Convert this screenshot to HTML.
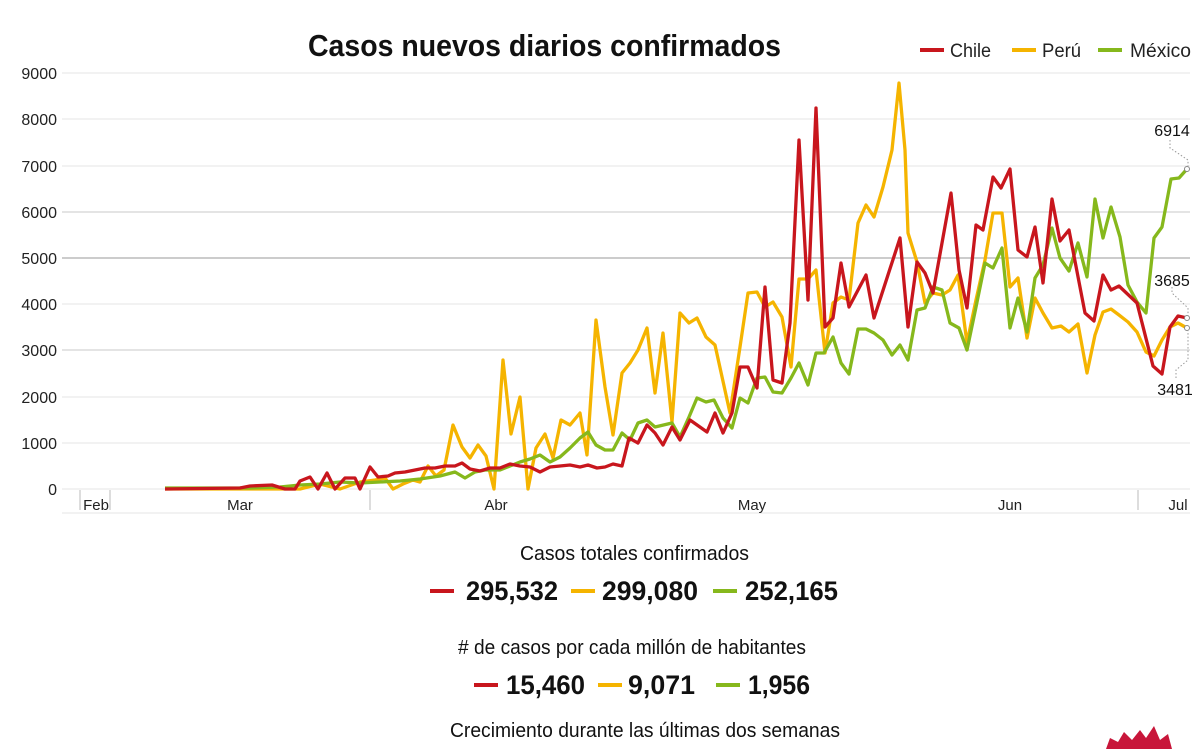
<!DOCTYPE html>
<html><head><meta charset="utf-8"><style>
body{margin:0;background:#fff;width:1200px;height:749px;overflow:hidden;font-family:"Liberation Sans",sans-serif;}
svg text{font-family:"Liberation Sans",sans-serif;}
</style></head><body>
<svg width="1200" height="749" viewBox="0 0 1200 749" xmlns="http://www.w3.org/2000/svg">
<text x="308" y="56" font-size="31" font-weight="bold" fill="#111" textLength="473" lengthAdjust="spacingAndGlyphs">Casos nuevos diarios confirmados</text>
<g font-size="19" fill="#222">
<line x1="920" y1="50" x2="944" y2="50" stroke="#c8161d" stroke-width="4"/><text x="950" y="57" textLength="41" lengthAdjust="spacingAndGlyphs">Chile</text>
<line x1="1012" y1="50" x2="1036" y2="50" stroke="#f5b400" stroke-width="4"/><text x="1042" y="57" textLength="39" lengthAdjust="spacingAndGlyphs">Perú</text>
<line x1="1098" y1="50" x2="1122" y2="50" stroke="#86b81c" stroke-width="4"/><text x="1130" y="57" textLength="61" lengthAdjust="spacingAndGlyphs">México</text>
</g>
<g stroke="#e6e6e6" stroke-width="1">
<line x1="62" y1="73" x2="1190" y2="73"/><line x1="62" y1="119" x2="1190" y2="119"/><line x1="62" y1="166" x2="1190" y2="166"/>
<line x1="62" y1="212" x2="1190" y2="212" stroke="#c8c8c8"/><line x1="62" y1="258" x2="1190" y2="258" stroke="#999"/>
<line x1="62" y1="304" x2="1190" y2="304"/><line x1="62" y1="350" x2="1190" y2="350" stroke="#c8c8c8"/>
<line x1="62" y1="397" x2="1190" y2="397"/><line x1="62" y1="443" x2="1190" y2="443"/><line x1="62" y1="489" x2="1190" y2="489"/>
<line x1="62" y1="513" x2="1190" y2="513"/>
</g>
<g stroke="#bbb"><line x1="80" y1="490" x2="80" y2="510"/><line x1="110" y1="490" x2="110" y2="510"/><line x1="370" y1="490" x2="370" y2="510"/><line x1="1138" y1="490" x2="1138" y2="510"/></g>
<g font-size="16" fill="#222" text-anchor="end">
<text x="57" y="79">9000</text><text x="57" y="125">8000</text><text x="57" y="172">7000</text><text x="57" y="218">6000</text><text x="57" y="264">5000</text><text x="57" y="310">4000</text><text x="57" y="356">3000</text><text x="57" y="403">2000</text><text x="57" y="449">1000</text><text x="57" y="495">0</text>
</g>
<g font-size="15" fill="#222" text-anchor="middle">
<text x="96" y="510">Feb</text><text x="240" y="510">Mar</text><text x="496" y="510">Abr</text><text x="752" y="510">May</text><text x="1010" y="510">Jun</text><text x="1178" y="510">Jul</text>
</g>
<g fill="none" stroke-width="3.3" stroke-linejoin="round">
<polyline stroke="#f5b400" points="165,489 300,489 320,484 340,489 360,482 375,480 385,478 393,489 403,484 413,480 420,482 428,466 436,476 444,470 453,425 462,447 470,458 478,445 486,456 494,489 503,360 511,434 520,397 528,489 536,448 545,434 553,458 561,420 570,425 580,413 587,455 596,320 605,387 613,435 622,373 630,363 638,350 647,328 655,393 663,333 672,422 680,313 689,323 697,318 706,337 715,345 730,413 740,347 748,293 757,292 765,307 773,302 782,317 791,367 799,279 808,279 816,270 825,353 833,303 841,297 849,300 858,223 866,205 874,217 883,187 892,150 899,83 905,150 908,233 917,262 925,303 933,293 942,295 950,290 958,275 967,343 976,300 985,260 993,213 1002,213 1010,287 1018,278 1027,338 1035,298 1043,313 1052,328 1061,326 1069,332 1078,324 1087,373 1095,335 1103,312 1111,309 1119,315 1128,322 1137,332 1146,352 1154,356 1162,340 1170,327 1178,323 1187,328"/>
<polyline stroke="#86b81c" points="165,488 250,488 280,487 300,485 320,484 340,482 360,483 380,482 400,481 420,479 440,476 455,472 465,478 475,472 485,470 500,470 510,466 520,462 530,459 540,455 550,462 560,457 570,448 580,438 588,432 596,445 605,450 613,450 622,433 630,440 638,423 647,420 655,427 672,423 680,437 689,417 697,398 706,402 714,400 723,418 732,428 740,398 748,403 757,378 765,377 773,392 782,393 791,378 799,363 808,385 816,353 824,353 833,337 841,363 849,374 858,329 866,329 874,333 883,340 892,355 900,345 908,360 917,310 925,308 933,287 942,290 950,323 959,328 967,350 976,307 985,263 993,268 1002,248 1010,328 1018,298 1027,332 1035,278 1043,265 1052,228 1060,258 1069,271 1078,243 1087,277 1095,199 1103,238 1111,207 1120,237 1128,285 1137,302 1146,313 1154,238 1162,227 1171,179 1179,178 1187,169"/>
<polyline stroke="#c8161d" points="165,489 240,488 250,486 272,485 285,489 295,489 300,481 310,477 318,489 327,473 335,489 345,478 355,478 360,489 370,467 378,477 388,476 395,473 405,472 415,470 425,468 435,468 445,466 455,466 462,463 470,469 480,471 490,468 500,468 510,464 520,466 530,467 540,472 550,467 560,466 570,465 580,467 588,465 597,468 605,467 613,464 622,466 629,438 638,443 647,425 655,433 663,445 672,427 680,440 690,420 707,432 715,413 723,433 732,413 740,367 748,367 757,388 765,287 773,380 782,383 790,323 799,140 808,300 816,108 825,327 833,318 841,263 849,307 866,275 874,318 900,238 908,327 917,262 925,273 933,293 951,193 959,270 967,308 976,225 983,230 993,177 1001,188 1010,169 1018,250 1027,257 1035,227 1043,283 1052,199 1060,241 1069,230 1085,313 1094,321 1103,275 1111,290 1119,286 1137,303 1153,366 1162,374 1170,327 1178,316 1187,318"/>
</g>
<g fill="#fff" stroke="#888" stroke-width="1"><circle cx="1187" cy="169" r="2.5"/><circle cx="1187" cy="318" r="2.5"/><circle cx="1187" cy="328" r="2.5"/></g>
<g stroke="#999" stroke-dasharray="1.5,2" fill="none"><polyline points="1170,140 1170,148 1188,160 1188,166"/><polyline points="1172,287 1172,293 1188,308 1188,316"/><polyline points="1176,378 1176,370 1188,360 1188,331"/></g>
<g font-size="16" fill="#111" text-anchor="middle"><text x="1172" y="136">6914</text><text x="1172" y="286">3685</text><text x="1175" y="395">3481</text></g>
<g fill="#111" font-size="20">
<text x="520" y="560" textLength="229" lengthAdjust="spacingAndGlyphs">Casos totales confirmados</text>
<text x="458" y="654" textLength="348" lengthAdjust="spacingAndGlyphs"># de casos por cada millón de habitantes</text>
<text x="450" y="737" textLength="390" lengthAdjust="spacingAndGlyphs">Crecimiento durante las últimas dos semanas</text>
</g>
<g font-size="27" font-weight="bold" fill="#111">
<line x1="430" y1="591" x2="454" y2="591" stroke="#c8161d" stroke-width="4"/><text x="466" y="600" textLength="92" lengthAdjust="spacingAndGlyphs">295,532</text>
<line x1="571" y1="591" x2="595" y2="591" stroke="#f5b400" stroke-width="4"/><text x="602" y="600" textLength="96" lengthAdjust="spacingAndGlyphs">299,080</text>
<line x1="713" y1="591" x2="737" y2="591" stroke="#86b81c" stroke-width="4"/><text x="745" y="600" textLength="93" lengthAdjust="spacingAndGlyphs">252,165</text>
<line x1="474" y1="685" x2="498" y2="685" stroke="#c8161d" stroke-width="4"/><text x="506" y="694" textLength="79" lengthAdjust="spacingAndGlyphs">15,460</text>
<line x1="598" y1="685" x2="622" y2="685" stroke="#f5b400" stroke-width="4"/><text x="628" y="694" textLength="67" lengthAdjust="spacingAndGlyphs">9,071</text>
<line x1="716" y1="685" x2="740" y2="685" stroke="#86b81c" stroke-width="4"/><text x="748" y="694" textLength="62" lengthAdjust="spacingAndGlyphs">1,956</text>
</g>
<path d="M1106,749 L1110,738 L1118,742 L1124,732 L1132,740 L1140,730 L1146,738 L1154,726 L1160,740 L1168,734 L1172,749 Z" fill="#c8163a"/>
</svg>
</body></html>
